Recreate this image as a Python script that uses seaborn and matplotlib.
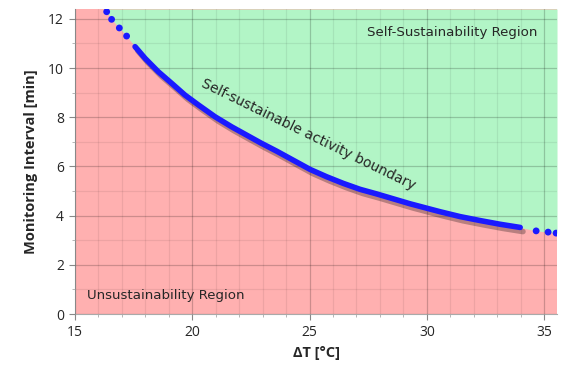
import numpy as np
import pandas as pd
import matplotlib
matplotlib.use("Agg")
import matplotlib.pyplot as plt
import matplotlib.patheffects as pe
from matplotlib.ticker import MultipleLocator
import seaborn as sns

# boundary points (delta T in degC, interval in min)
dense_dt = [17.56, 17.99, 18.55, 19.12, 19.69, 20.26, 20.97, 21.68, 22.93, 23.60, 24.31,
            25.02, 25.73, 26.44, 27.15, 27.87, 28.58, 29.29, 30.56, 31.42, 32.27, 33.12, 33.98]
dense_min = [10.87, 10.39, 9.85, 9.38, 8.90, 8.50, 8.02, 7.61, 6.95, 6.62, 6.25,
             5.88, 5.58, 5.31, 5.07, 4.88, 4.68, 4.48, 4.16, 3.96, 3.80, 3.65, 3.52]
left_dt = [16.35, 16.56, 16.89, 17.2]
left_min = [12.29, 11.98, 11.63, 11.3]
right_dt = [34.66, 35.17, 35.51]
right_min = [3.38, 3.33, 3.29]

x_ticks = [15, 20, 25, 30, 35]
y_ticks = [0, 2, 4, 6, 8, 10, 12]

RED = "#ffb0b0"
GREEN = "#b2f5c6"
BLUE = "#1a1aff"

sns.set_style("ticks")
plt.rcParams['font.family'] = ['DejaVu Sans']

fig = plt.figure(figsize=(5.61, 3.71), dpi=100)
ax = fig.add_axes([0.1337, 0.1536, 0.8592, 0.8221])
x_max, y_max = 35.55, 12.4

dense = pd.DataFrame({"dt": dense_dt, "t": dense_min})
sparse = pd.DataFrame({"dt": left_dt + right_dt, "t": left_min + right_min})

# regions: red everywhere, green above the boundary
ax.set_facecolor(RED)
bx = np.array(left_dt + dense_dt + right_dt)
by = np.array(left_min + dense_min + right_min)
ax.fill_between(np.r_[bx, x_max], np.r_[by, by[-1]], y_max, color=GREEN, lw=0, zorder=0)

shadow = [pe.SimpleLineShadow(offset=(2, -3), shadow_color="k", alpha=0.28), pe.Normal()]
sns.lineplot(data=dense, x="dt", y="t", ax=ax, color=BLUE, linewidth=4.0,
             solid_capstyle="round", solid_joinstyle="round", zorder=4, path_effects=shadow)
sns.scatterplot(data=sparse, x="dt", y="t", ax=ax, color=BLUE, s=24,
                edgecolor="none", zorder=4)

ax.set_xlim(15, x_max)
ax.set_ylim(0, y_max)
ax.set_xticks(x_ticks)
ax.set_yticks(y_ticks)
ax.xaxis.set_minor_locator(MultipleLocator(1))
ax.yaxis.set_minor_locator(MultipleLocator(1))
ax.grid(which="major", color="#000000", alpha=0.2, linewidth=0.9)
ax.grid(which="minor", color="#000000", alpha=0.07, linewidth=0.9)
ax.set_axisbelow(False)

for s in ["top", "right"]:
    ax.spines[s].set_visible(False)
for s in ["left", "bottom"]:
    ax.spines[s].set_color("#aaaaaa")
    ax.spines[s].set_linewidth(0.8)
ax.tick_params(which="major", length=4, color="#888888", width=0.8, labelsize=10, pad=4)
ax.tick_params(which="minor", length=2.5, color="#aaaaaa", width=0.6)
for lab in ax.get_xticklabels() + ax.get_yticklabels():
    lab.set_fontfamily("Open Sans")

ax.set_xlabel("ΔT [°C]", fontsize=10.5, fontweight="bold", family="Open Sans", labelpad=4)
ax.set_ylabel("Monitoring Interval [min]", fontsize=10.5, fontweight="bold", family="Open Sans", labelpad=7)

ax.text(34.7, 11.46, "Self-Sustainability Region", ha="right", va="center", fontsize=9.6, zorder=5)
ax.text(15.5, 0.74, "Unsustainability Region", ha="left", va="center", fontsize=9.6, zorder=5)
ax.text(24.95, 7.3, "Self-sustainable activity boundary", ha="center", va="center",
        rotation=-26, rotation_mode="anchor", fontsize=10, zorder=5)

fig.savefig("out.png", dpi=100)
